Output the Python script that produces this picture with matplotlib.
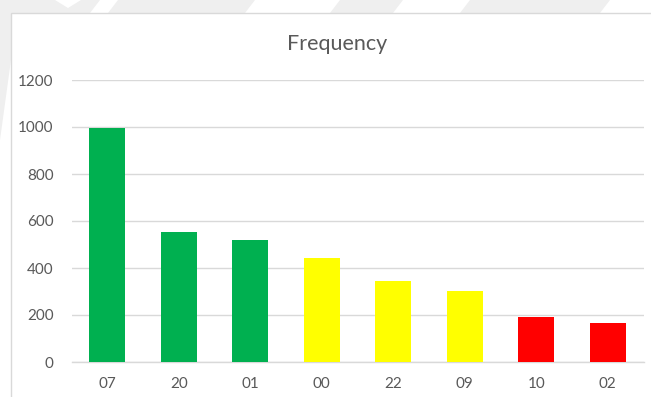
import matplotlib
matplotlib.use("Agg")
import matplotlib.pyplot as plt
from matplotlib.patches import Polygon, Rectangle

# Data
categories = ["07", "20", "01", "00", "22", "09", "10", "02"]
frequency = [996, 553, 521, 442, 346, 301, 192, 168]
bar_colors = ["#00B050", "#00B050", "#00B050",
              "#FFFF00", "#FFFF00", "#FFFF00",
              "#FF0000", "#FF0000"]
y_ticks = [0, 200, 400, 600, 800, 1000, 1200]

W, H = 651, 397
fig = plt.figure(figsize=(W / 100, H / 100), dpi=100)
fig.patch.set_facecolor("white")

# faint background band with slanted stripes along the top edge
wm = "#efefef"
def px(x, y):
    return (x / W, 1 - y / H)
band = [[(0, 0), (55, 0), (68, 8), (81, 0), (100, 0), (90, 13), (0, 13)],
        [(118, 0), (255, 0), (245, 13), (108, 13)],
        [(340, 0), (403, 0), (393, 13), (330, 13)],
        [(470, 0), (610, 0), (600, 13), (460, 13)],
        [(0, 13), (11, 13), (11, 60), (0, 140)]]
for poly in band:
    fig.patches.append(Polygon([px(*p) for p in poly], closed=True,
                               transform=fig.transFigure, facecolor=wm,
                               edgecolor="none", zorder=-4))

# chart area outline
fig.patches.append(Rectangle(px(11, 420), (700 - 11) / W, (420 - 13) / H,
                             transform=fig.transFigure, facecolor="none",
                             edgecolor="#d9d9d9", linewidth=1.0, zorder=-3))

font = ["Lato", "DejaVu Sans"]
txt = "#595959"

left, right = 71.5 / W, 643.5 / W
bottom, top = (H - 362) / H, (H - 80) / H
ax = fig.add_axes([left, bottom, right - left, top - bottom])
ax.set_facecolor("none")

x = range(len(categories))
ax.bar(x, frequency, width=0.5, color=bar_colors, edgecolor="none", zorder=3)

ax.set_xlim(-0.5, len(categories) - 0.5)
ax.set_ylim(0, 1200)
ax.set_yticks(y_ticks)
ax.set_yticklabels([str(v) for v in y_ticks], fontfamily=font, fontsize=11, color=txt)
ax.set_xticks(list(x))
ax.set_xticklabels(categories, fontfamily=font, fontsize=11, color=txt)
ax.tick_params(axis="both", length=0)
ax.tick_params(axis="y", pad=13)
ax.tick_params(axis="x", pad=11)

ax.grid(axis="y", color="#d9d9d9", linewidth=1.0, zorder=0)
for s in ["top", "right", "left"]:
    ax.spines[s].set_visible(False)
ax.spines["bottom"].set_color("#d9d9d9")
ax.spines["bottom"].set_linewidth(1.0)

fig.text(337 / W, 1 - 44 / H, "Frequency", ha="center", va="center",
         fontfamily=font, fontsize=15.5, color=txt)

fig.savefig("out.png", dpi=100)
